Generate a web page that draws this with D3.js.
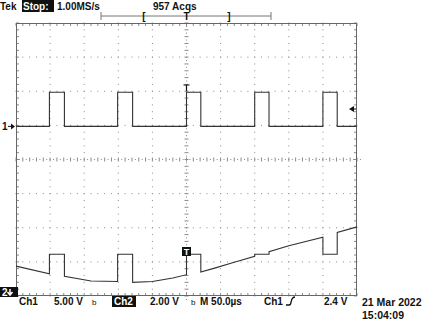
<!DOCTYPE html>
<html>
<head>
<meta charset="utf-8">
<script src="https://cdn.jsdelivr.net/npm/d3@7"></script>
<style>
  html, body { margin: 0; padding: 0; background: #fff; }
  svg text { font-family: "Liberation Sans", Arial, sans-serif; font-weight: bold; font-size: 10px; fill: #111; }
</style>
</head>
<body>
<svg id="scope" width="435" height="327"></svg>
<script>
// Ch1: square pulses, edges in microseconds (rise, fall, rise, fall ...)
const ch1Edges = [49, 71, 149, 171, 250, 271, 350, 371, 450, 471];
const ch1Levels = [0, 5];          // volts, low / high
const ch1Offset = 0.97;            // divisions above centre (marker "1")

// Ch2: sawtooth-like trace with clamped level during the Ch1 pulses
const ch2Time  = [0, 49, 49, 71, 71, 110, 149, 149, 171, 171, 200, 230, 250, 250, 271, 271, 290, 320, 350, 350, 371, 371, 400, 450, 450, 471, 471, 500];
const ch2Volts = [1.75, 1.30, 2.45, 2.45, 1.15, 0.88, 0.85, 2.45, 2.45, 0.80, 0.85, 1.05, 1.25, 2.45, 2.45, 1.40, 1.62, 1.98, 2.33, 2.45, 2.45, 2.60, 2.95, 3.45, 2.45, 2.45, 3.72, 4.05];
const ch2Offset = -4;              // divisions (ground at bottom line)

const topLabels = ["Tek", "Stop:", "1.00MS/s", "957 Acqs"];
const bottomLabels = ["Ch1", "5.00 V", "Ch2", "2.00 V", "M 50.0\u00b5s", "Ch1", "2.4 V"];
const dateLabels = ["21 Mar 2022", "15:04:09"];

let svg = d3.select("#scope");
let gLeft = 16, gRight = 357, gTop = 23, gBottom = 296;
let divW = (gRight - gLeft) / 10, divH = (gBottom - gTop) / 8;

let xScale = d3.scaleLinear().domain([0, 500]).range([gLeft, gRight]);
let yDiv = d3.scaleLinear().domain([-4, 4]).range([gBottom, gTop]);
let gridColor = "#8a8a8a";

// graticule dots on the division lines
let grid = svg.append("g");
let minor = d3.range(0, 51).map(i => gLeft + i * divW / 5);
let minorY = d3.range(0, 41).map(i => gTop + i * divH / 5);
d3.range(1, 10).filter(k => k != 5).forEach(k => {
    let x = gLeft + k * divW;
    minorY.forEach(y => grid.append("rect").attr("x", x - 0.5).attr("y", y - 0.5).attr("width", 1).attr("height", 1).attr("fill", gridColor));
});
d3.range(1, 8).filter(k => k != 4).forEach(k => {
    let y = gTop + k * divH;
    minor.forEach(x => grid.append("rect").attr("x", x - 0.5).attr("y", y - 0.5).attr("width", 1).attr("height", 1).attr("fill", gridColor));
});

// centre axes with ticks
let cx = gLeft + 5 * divW, cy = gTop + 4 * divH;
minor.forEach(x => grid.append("line").attr("x1", x).attr("x2", x).attr("y1", cy - 2).attr("y2", cy + 2).attr("stroke", gridColor));
minorY.forEach(y => grid.append("line").attr("x1", cx - 2).attr("x2", cx + 2).attr("y1", y).attr("y2", y).attr("stroke", gridColor));
minor.forEach(x => grid.append("rect").attr("x", x + divW / 10 - 0.5).attr("y", cy - 0.5).attr("width", 1).attr("height", 1).attr("fill", gridColor));
minorY.forEach(y => grid.append("rect").attr("x", cx - 0.5).attr("y", y + divH / 10 - 0.5).attr("width", 1).attr("height", 1).attr("fill", gridColor));

// border ticks
minor.forEach(x => {
    grid.append("line").attr("x1", x).attr("x2", x).attr("y1", gTop).attr("y2", gTop + 3).attr("stroke", gridColor);
    grid.append("line").attr("x1", x).attr("x2", x).attr("y1", gBottom - 3).attr("y2", gBottom).attr("stroke", gridColor);
});
minorY.forEach(y => {
    grid.append("line").attr("x1", gLeft).attr("x2", gLeft + 3).attr("y1", y).attr("y2", y).attr("stroke", gridColor);
    grid.append("line").attr("x1", gRight - 3).attr("x2", gRight).attr("y1", y).attr("y2", y).attr("stroke", gridColor);
});
grid.append("rect").attr("x", gLeft + 0.5).attr("y", gTop + 0.5)
    .attr("width", gRight - gLeft - 1).attr("height", gBottom - gTop - 1)
    .attr("fill", "none").attr("stroke", "#666");

// Ch1 trace
let ch1Pts = [[0, ch1Levels[0]]];
ch1Edges.forEach((t, i) => {
    let before = i % 2 == 0 ? ch1Levels[0] : ch1Levels[1];
    let after = i % 2 == 0 ? ch1Levels[1] : ch1Levels[0];
    ch1Pts.push([t, before], [t, after]);
});
ch1Pts.push([500, ch1Levels[0]]);
let line1 = d3.line().x(d => xScale(d[0])).y(d => yDiv(d[1] / 5 + ch1Offset));
svg.append("path").attr("d", line1(ch1Pts)).attr("fill", "none").attr("stroke", "#333").attr("stroke-width", 1.1);

// Ch2 trace
let ch2Pts = ch2Time.map((t, i) => [t, ch2Volts[i]]);
let line2 = d3.line().x(d => xScale(d[0])).y(d => yDiv(d[1] / 2 + ch2Offset));
svg.append("path").attr("d", line2(ch2Pts)).attr("fill", "none").attr("stroke", "#333").attr("stroke-width", 1.1);

// markers
let m1 = yDiv(ch1Offset);
svg.append("text").attr("x", 2).attr("y", m1 + 4).text("1");
svg.append("line").attr("x1", 8).attr("x2", 13).attr("y1", m1).attr("y2", m1).attr("stroke", "#111");
svg.append("path").attr("d", `M15,${m1} L11,${m1 - 3} L11,${m1 + 3} Z`).attr("fill", "#111");

svg.append("rect").attr("x", 0).attr("y", 287).attr("width", 18).attr("height", 10).attr("fill", "#111");
svg.append("text").attr("x", 2).attr("y", 296).style("fill", "#fff").text("2");
svg.append("path").attr("d", "M10,289 L10,294 M7.5,292 L10,295 L12.5,292").attr("stroke", "#fff").attr("fill", "none").attr("stroke-width", 1.5);

// trigger level arrow (right side)
svg.append("path").attr("d", "M349,109 L354,106 L354,112 Z").attr("fill", "#111");
svg.append("line").attr("x1", 353).attr("x2", 356).attr("y1", 109).attr("y2", 109).attr("stroke", "#111");

// trigger point marker on Ch1
let tx = xScale(250);
svg.append("path").attr("d", `M${tx - 3},85 L${tx + 3},85 M${tx},85 L${tx},91`).attr("stroke", "#111").attr("stroke-width", 1.2);

// Ch2 trigger box
svg.append("rect").attr("x", 182).attr("y", 247).attr("width", 9).attr("height", 9).attr("fill", "#111");
svg.append("text").attr("x", 186.5).attr("y", 255).attr("text-anchor", "middle").style("fill", "#fff").style("font-size", "9px").text("T");

// record bar at top
let bar = svg.append("g").attr("stroke", "#777");
bar.append("line").attr("x1", 101).attr("x2", 271).attr("y1", 16).attr("y2", 16);
bar.append("line").attr("x1", 101).attr("x2", 101).attr("y1", 12).attr("y2", 20);
bar.append("line").attr("x1", 271).attr("x2", 271).attr("y1", 12).attr("y2", 20);
svg.append("text").attr("x", 144).attr("y", 20).attr("text-anchor", "middle").text("[");
svg.append("text").attr("x", 229).attr("y", 20).attr("text-anchor", "middle").text("]");
svg.append("text").attr("x", tx).attr("y", 20).attr("text-anchor", "middle").text("T");

// top text
svg.append("text").attr("x", 0).attr("y", 10).text(topLabels[0]);
svg.append("rect").attr("x", 22).attr("y", 0).attr("width", 32).attr("height", 12).attr("fill", "#111");
svg.append("text").attr("x", 23).attr("y", 10).style("fill", "#fff").text(topLabels[1]);
svg.append("text").attr("x", 57).attr("y", 10).text(topLabels[2]);
svg.append("text").attr("x", 153).attr("y", 10).text(topLabels[3]);

// bottom text
let by = 305;
svg.append("text").attr("x", 19).attr("y", by).text(bottomLabels[0]);
svg.append("text").attr("x", 54).attr("y", by).text(bottomLabels[1]);
svg.append("text").attr("x", 92).attr("y", by).style("font-size", "8px").style("font-weight", "normal").text("\u0185");
svg.append("rect").attr("x", 112).attr("y", 296).attr("width", 24).attr("height", 11).attr("fill", "#111");
svg.append("text").attr("x", 114).attr("y", by).style("fill", "#fff").text(bottomLabels[2]);
svg.append("text").attr("x", 150).attr("y", by).text(bottomLabels[3]);
svg.append("text").attr("x", 191).attr("y", by).style("font-size", "8px").style("font-weight", "normal").text("\u0185");
svg.append("text").attr("x", 200).attr("y", by).text(bottomLabels[4]);
svg.append("text").attr("x", 264).attr("y", by).text(bottomLabels[5]);
svg.append("path").attr("d", "M286,305 L289,305 Q291,305 291,302 L292,299 Q293,297 295,297").attr("fill", "none").attr("stroke", "#111").attr("stroke-width", 1.3);
svg.append("text").attr("x", 324).attr("y", by).text(bottomLabels[6]);
svg.append("text").attr("x", 362).attr("y", 306).style("font-size", "10.5px").text(dateLabels[0]);
svg.append("text").attr("x", 362).attr("y", 319).style("font-size", "10.5px").text(dateLabels[1]);
</script>
</body>
</html>
